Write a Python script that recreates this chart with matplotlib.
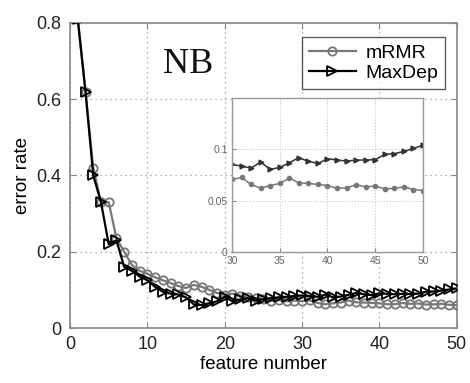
import numpy as np
import matplotlib
matplotlib.use("Agg")
import matplotlib.pyplot as plt

plt.rcParams['font.family'] = ['Liberation Sans', 'DejaVu Sans']

features = np.arange(1, 51)

mrmr = [0.81, 0.62, 0.42, 0.33, 0.33, 0.235, 0.20, 0.165, 0.15, 0.142,
        0.133, 0.125, 0.118, 0.11, 0.105, 0.113, 0.108, 0.10, 0.092, 0.087,
        0.09, 0.085, 0.08, 0.078, 0.075, 0.072, 0.073, 0.07, 0.072, 0.0707,
        0.0726, 0.0658, 0.0622, 0.0648, 0.0668, 0.072, 0.0674, 0.0668, 0.0658, 0.0648,
        0.0622, 0.0625, 0.0655, 0.0635, 0.0642, 0.0616, 0.0619, 0.0635, 0.0609, 0.0599]

maxdep = [0.81, 0.62, 0.40, 0.33, 0.22, 0.23, 0.16, 0.15, 0.135, 0.125,
          0.108, 0.095, 0.09, 0.088, 0.08, 0.062, 0.06, 0.065, 0.07, 0.082,
          0.07, 0.075, 0.078, 0.072, 0.076, 0.078, 0.08, 0.082, 0.084, 0.0853,
          0.0837, 0.0818, 0.0876, 0.0805, 0.0824, 0.087, 0.0919, 0.0883, 0.0863, 0.0909,
          0.0896, 0.0886, 0.0896, 0.0896, 0.090, 0.0951, 0.0958, 0.098, 0.101, 0.104]

main_xticks = [0, 10, 20, 30, 40, 50]
main_yticks = [0, 0.2, 0.4, 0.6, 0.8]
main_yticklabels = ['0', '0.2', '0.4', '0.6', '0.8']
inset_xticks = [30, 35, 40, 45, 50]
inset_yticks = [0, 0.05, 0.1]
inset_yticklabels = ['0', '0.05', '0.1']

grey = '#777777'
frame = '#888888'

fig = plt.figure(figsize=(4.70, 3.83), dpi=100)
ax = fig.add_axes([0.149, 0.1436, 0.823, 0.7964])

ax.plot(features, mrmr, color=grey, lw=1.6, marker='o', ms=6,
        mfc='none', mec=grey, mew=1.3, label='mRMR', zorder=3)
ax.plot(features, maxdep, color='black', lw=1.6, marker='>', ms=6.5,
        mfc='none', mec='black', mew=1.3, label='MaxDep', zorder=4)

ax.set_xlim(0, 50)
ax.set_ylim(0, 0.8)
ax.set_xticks(main_xticks)
ax.set_yticks(main_yticks)
ax.set_yticklabels(main_yticklabels)
ax.tick_params(direction='in', length=4, labelsize=13, pad=6,
               top=True, right=True, colors=frame, labelcolor='#222222')
ax.grid(True, linestyle=(0, (1, 3)), color='#999999', lw=0.9)
for s in ax.spines.values():
    s.set_color(frame)
    s.set_linewidth(1.2)
ax.set_xlabel('feature number', fontsize=13.5, labelpad=2)
ax.set_ylabel('error rate', fontsize=13.5, labelpad=4)

ax.text(12.0, 0.69, 'NB', fontsize=26, family='Liberation Serif',
        color='#111111', va='center', ha='left')

leg = ax.legend(loc='upper right', fontsize=14, frameon=True, fancybox=False,
                edgecolor='#333333', borderpad=0.35, handlelength=2.4,
                handletextpad=0.5, labelspacing=0.15,
                bbox_to_anchor=(0.995, 0.985))
leg.get_frame().set_linewidth(1.0)

ins = fig.add_axes([0.4936, 0.342, 0.4064, 0.402])
ins.plot(features[29:], mrmr[29:], color=grey, lw=1.1, marker='o', ms=3,
         mfc=grey, mec=grey)
ins.plot(features[29:], maxdep[29:], color='#333333', lw=1.1, marker='>', ms=3.5,
         mfc='#333333', mec='#333333')
ins.set_xlim(30, 50)
ins.set_ylim(0, 0.15)
ins.set_xticks(inset_xticks)
ins.set_yticks(inset_yticks)
ins.set_yticklabels(inset_yticklabels)
ins.tick_params(direction='in', length=3, labelsize=7.5, colors=frame,
                labelcolor='#666666', pad=3)
ins.grid(True, linestyle=(0, (1, 2)), color='#bbbbbb', lw=0.7)
for s in ins.spines.values():
    s.set_color('#999999')
    s.set_linewidth(1.0)

fig.savefig('out.png', dpi=100)
